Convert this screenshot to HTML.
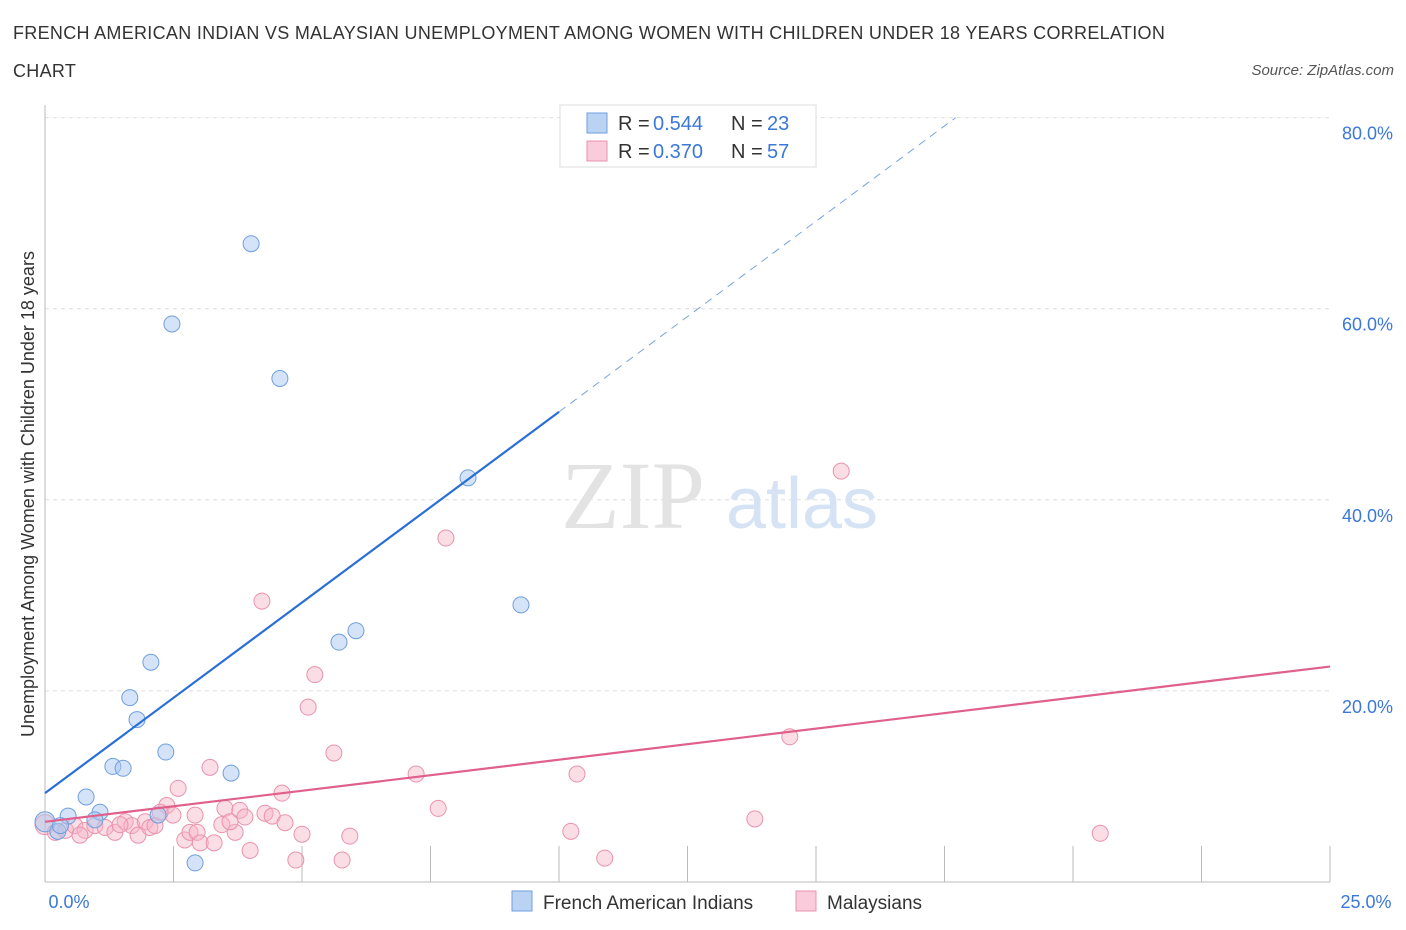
<!DOCTYPE html>
<html><head><meta charset="utf-8">
<style>
body{margin:0;background:#fff;font-family:"Liberation Sans",sans-serif;}
#wrap{position:relative;width:1406px;height:930px;overflow:hidden;}
.title{position:absolute;left:13px;top:14px;font-size:18px;color:#333;line-height:38px;width:1250px;letter-spacing:0.3px;}
.src{position:absolute;right:12px;top:62px;font-size:15px;color:#555;font-style:italic;}
</style></head>
<body>
<div id="wrap">
<div class="title">FRENCH AMERICAN INDIAN VS MALAYSIAN UNEMPLOYMENT AMONG WOMEN WITH CHILDREN UNDER 18 YEARS CORRELATION<br>CHART</div>
<div class="src">Source: ZipAtlas.com</div>
<svg id="chart" width="1406" height="930" style="position:absolute;left:0;top:0"></svg>
</div>
<script>
const blueX=[0,0.25,0.45,0.8,1.07,0.97,1.32,1.52,1.65,1.79,2.06,2.35,2.2,2.47,2.92,3.62,4.01,4.57,5.72,6.05,8.23,9.26,0.3];
const blueY=[6.3,5.3,6.9,8.9,7.3,6.5,12.1,11.9,19.3,17.0,23.0,13.6,7.0,58.4,2.0,11.4,66.8,52.7,25.1,26.3,42.3,29.0,5.9];
const pinkX=[0,0.2,0.4,0.58,0.78,0.97,1.17,1.36,1.56,1.69,1.81,1.95,2.04,2.14,2.37,2.49,2.59,2.72,2.82,2.96,3.02,3.21,3.29,3.44,3.5,3.7,3.79,3.89,3.99,4.22,4.28,4.42,4.61,4.67,4.88,5.0,5.12,5.25,5.62,5.78,5.93,7.22,7.65,7.8,10.23,10.35,10.89,13.81,14.49,15.49,20.53,3.6,2.92,1.46,0.68,2.24];
const pinkY=[6.0,5.2,5.4,5.9,5.4,5.9,5.7,5.2,6.3,5.9,4.9,6.3,5.7,5.9,8.0,7.0,9.8,4.4,5.2,5.2,4.1,12.0,4.1,6.0,7.7,5.2,7.5,6.8,3.3,29.4,7.2,6.9,9.3,6.2,2.3,5.0,18.3,21.7,13.5,2.3,4.8,11.3,7.7,36.0,5.3,11.3,2.5,6.6,15.2,43.0,5.1,6.3,7.0,6.0,4.9,7.3];
const yTicks=[20,40,60,80];
const yTickLabels=["20.0%","40.0%","60.0%","80.0%"];
const xTicks=[0,2.5,5,7.5,10,12.5,15,17.5,20,22.5,25];
const blueFit=[9.3,3.99];
const pinkFit=[6.3,0.65];

const svg=document.getElementById('chart');
const NS='http://www.w3.org/2000/svg';
const X=v=>45+v/25*1285;
const Y=v=>882-v*9.555;
function mk(t,a){const e=document.createElementNS(NS,t);for(const k in a)e.setAttribute(k,a[k]);svg.appendChild(e);return e;}

yTicks.forEach((t,i)=>{
 const g=mk('line',{x1:45,x2:1330,y1:Y(t),y2:Y(t),stroke:'#ddd','stroke-dasharray':'4,4'});
 
 
 const l=mk('text',{x:1393,y:Y(t)+22,'text-anchor':'end','font-size':18,fill:'#3b78d8'});
 l.textContent=yTickLabels[i];
 
 
});
const ax=mk('line',{x1:45,x2:1330,y1:882,y2:882,stroke:'#bbb'});


const ay=mk('line',{x1:45,x2:45,y1:105,y2:882,stroke:'#bbb'});


xTicks.forEach(t=>{
 const k=mk('line',{x1:X(t),x2:X(t),y1:846,y2:882,stroke:'#bbb'});
 
 
});
[[0,"0.0%",69],[25,"25.0%",1366]].forEach(a=>{
 const t=mk('text',{x:a[2],y:908,'text-anchor':'middle','font-size':18,fill:'#3b78d8'});
 t.textContent=a[1];
 
 
});
const yt=mk('text',{x:0,y:0,transform:'translate(34,494) rotate(-90)','text-anchor':'middle','font-size':18,fill:'#333'});
yt.textContent='Unemployment Among Women with Children Under 18 years';



const w1=mk('text',{x:633,y:528,'text-anchor':'middle','font-size':96,fill:'#e3e3e3','font-family':'Liberation Serif,serif'});
w1.textContent='ZIP';


const w2=mk('text',{x:802,y:528,'text-anchor':'middle','font-size':72,fill:'#d5e3f5'});
w2.textContent='atlas';



pinkX.forEach((x,i)=>{
 const c=mk('circle',{cx:X(x),cy:Y(pinkY[i]),r:i==0?10:8,fill:'rgba(247,180,200,0.45)',stroke:'#e993ae','stroke-width':1});
 
 
});
blueX.forEach((x,i)=>{
 const c=mk('circle',{cx:X(x),cy:Y(blueY[i]),r:i==0?10:8,fill:'rgba(170,200,240,0.5)',stroke:'#6f9fdc','stroke-width':1});
 
 
});
const bs=mk('line',{x1:X(0),y1:Y(blueFit[0]),x2:X(10),y2:Y(blueFit[0]+blueFit[1]*10),stroke:'#2a6fd6','stroke-width':2.2});


const xEnd=(80-blueFit[0])/blueFit[1];
const bd=mk('line',{x1:X(10),y1:Y(blueFit[0]+blueFit[1]*10),x2:X(xEnd),y2:Y(80),stroke:'#7aa3dd','stroke-width':1,'stroke-dasharray':'8,6'});


const ps=mk('line',{x1:X(0),y1:Y(pinkFit[0]),x2:X(25),y2:Y(pinkFit[0]+pinkFit[1]*25),stroke:'#e0608c','stroke-width':2.2});



const lb=mk('rect',{x:560,y:105,width:256,height:62,fill:'#fff',stroke:'#ddd'});


[[123,'rgba(170,200,240,0.8)','#6f9fdc','0.544','23'],[151,'rgba(247,190,210,0.8)','#e993ae','0.370','57']].forEach(r=>{
 const s=mk('rect',{x:587,y:r[0]-10,width:20,height:20,fill:r[1],stroke:r[2]});
 
 
 const parts=[[618,'R =','#333'],[653,r[3],'#3b78d8'],[731,'N =','#333'],[767,r[4],'#3b78d8']];
 parts.forEach(p=>{
  const t=mk('text',{x:p[0],y:r[0]+7,'font-size':20,fill:p[2]});
  t.textContent=p[1];
  
  
 });
});
[[512,'rgba(170,200,240,0.8)','#6f9fdc','French American Indians'],[796,'rgba(247,190,210,0.8)','#e993ae','Malaysians']].forEach(r=>{
 const s=mk('rect',{x:r[0],y:891,width:20,height:20,fill:r[1],stroke:r[2]});
 
 
 const t=mk('text',{x:r[0]+31,y:909,'font-size':19,fill:'#333'});
 t.textContent=r[3];
 
 
});
</script>
</body></html>
